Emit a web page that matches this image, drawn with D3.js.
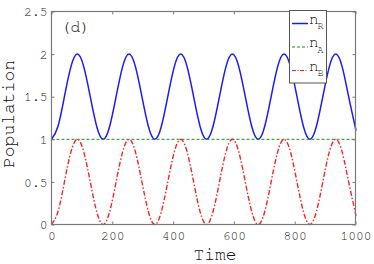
<!DOCTYPE html>
<html><head><meta charset="utf-8">
<script src="https://cdn.jsdelivr.net/npm/d3@7"></script>
<style>body{margin:0;background:#fff}svg{display:block}</style>
</head><body>
<svg id="c" width="374" height="264"></svg>
<script>
// Data
const time = [0,21.25,42.5,63.75,85,106.25,127.5,148.75,170,191.25,212.5,233.75,255,276.25,297.5,318.75,340,361.25,382.5,403.75,425,446.25,467.5,488.75,510,531.25,552.5,573.75,595,616.25,637.5,658.75,680,701.25,722.5,743.75,765,786.25,807.5,828.75,850,871.25,892.5,913.75,935,956.25,977.5,998.75,1000];
const nR = [1.00,1.15,1.50,1.85,2.00,1.85,1.50,1.15,1.00,1.15,1.50,1.85,2.00,1.85,1.50,1.15,1.00,1.15,1.50,1.85,2.00,1.85,1.50,1.15,1.00,1.15,1.50,1.85,2.00,1.85,1.50,1.15,1.00,1.15,1.50,1.85,2.00,1.85,1.50,1.15,1.00,1.15,1.50,1.85,2.00,1.85,1.50,1.15,1.13];
const nB = [0.00,0.15,0.50,0.85,1.00,0.85,0.50,0.15,0.00,0.15,0.50,0.85,1.00,0.85,0.50,0.15,0.00,0.15,0.50,0.85,1.00,0.85,0.50,0.15,0.00,0.15,0.50,0.85,1.00,0.85,0.50,0.15,0.00,0.15,0.50,0.85,1.00,0.85,0.50,0.15,0.00,0.15,0.50,0.85,1.00,0.85,0.50,0.15,0.13];
const timeA = [0,1000];
const nA = [1,1];
const xTicks = [0,200,400,600,800,1000];
const yTicks = [0,0.5,1,1.5,2,2.5];
const yTickLabels = ["0","0.5","1","1.5","2","2.5"];
const seriesNames = ["R","A","B"];

const svg = d3.select("#c");
const L=51.5,R=355.5,T=11.5,B=224.5;
const x = d3.scaleLinear().domain([0,1000]).range([L,R]);
const y = d3.scaleLinear().domain([0,2.5]).range([B,T]);
const axisCol="#7a7a7a", textCol="#222", font="FreeMono, Liberation Mono, monospace";

const line = d3.line().x(d=>x(d[0])).y(d=>y(d[1])).curve(d3.curveNatural);
const g = svg.append("g");
g.append("path").datum(time.map((t,i)=>[t,nR[i]])).attr("d",line)
 .attr("fill","none").attr("stroke","#1a1aff").attr("stroke-width",1.5);
g.append("path").datum(timeA.map((t,i)=>[t,nA[i]])).attr("d",d3.line().x(d=>x(d[0])).y(d=>y(d[1])))
 .attr("fill","none").attr("stroke","#1f8a1f").attr("stroke-width",1).attr("stroke-dasharray","3,2");
g.append("path").datum(time.map((t,i)=>[t,nB[i]])).attr("d",line)
 .attr("fill","none").attr("stroke","#ff2020").attr("stroke-width",1.4).attr("stroke-dasharray","5,2,1.5,2");

// frame
svg.append("rect").attr("x",L).attr("y",T).attr("width",R-L).attr("height",B-T)
 .attr("fill","none").attr("stroke",axisCol).attr("stroke-width",1.2);

// axes
const xa = svg.append("g").attr("transform",`translate(0,${B})`)
 .call(d3.axisBottom(x).tickValues(xTicks).tickSizeInner(-3).tickSizeOuter(0).tickPadding(6).tickFormat(d3.format("d")));
const xt = svg.append("g").attr("transform",`translate(0,${T})`)
 .call(d3.axisTop(x).tickValues(xTicks).tickSizeInner(-3).tickSizeOuter(0).tickFormat(""));
const ya = svg.append("g").attr("transform",`translate(${L},0)`)
 .call(d3.axisLeft(y).tickValues(yTicks).tickSizeInner(-3).tickSizeOuter(0).tickPadding(4).tickFormat((d,i)=>yTickLabels[i]));
const yr = svg.append("g").attr("transform",`translate(${R},0)`)
 .call(d3.axisRight(y).tickValues(yTicks).tickSizeInner(-3).tickSizeOuter(0).tickFormat(""));
[xa,xt,ya,yr].forEach(a=>{a.select(".domain").remove();
 a.attr("font-family",font).attr("font-size",13);
 a.selectAll(".tick line").attr("stroke",axisCol);
 a.selectAll(".tick text").attr("fill",textCol);});
xa.selectAll(".tick text").attr("dy","0.7em");

// labels
svg.append("text").attr("x",215).attr("y",260).attr("text-anchor","middle")
 .attr("font-family",font).attr("font-size",18).attr("fill","#111").text("Time");
svg.append("text").attr("transform","translate(14,114) rotate(-90)").attr("text-anchor","middle")
 .attr("font-family",font).attr("font-size",18).attr("fill","#111").text("Population");
svg.append("text").attr("x",61).attr("y",32).attr("font-family",font).attr("font-size",16).attr("fill","#111").text("(d)");

// legend
const lg = svg.append("g");
lg.append("rect").attr("x",289.5).attr("y",10.5).attr("width",37).attr("height",72.5)
 .attr("fill","#fff").attr("stroke","#555").attr("stroke-width",1);
const styles=[{c:"#1a1aff",w:1.5,d:null},{c:"#1f8a1f",w:1,d:"3,2"},{c:"#ff2020",w:1.2,d:"4,1.5,1,1.5"}];
seriesNames.forEach((s,i)=>{
  const yy=23.5+i*23.5;
  lg.append("line").attr("x1",292).attr("x2",308).attr("y1",yy).attr("y2",yy)
   .attr("stroke",styles[i].c).attr("stroke-width",styles[i].w).attr("stroke-dasharray",styles[i].d);
  const t=lg.append("text").attr("x",309).attr("y",yy).attr("font-family",font).attr("font-size",16).attr("fill","#222");
  t.append("tspan").text("n");
  t.append("tspan").attr("dy",5.5).attr("dx",-1).attr("font-size",10).text(s);
});
</script>
</body></html>
